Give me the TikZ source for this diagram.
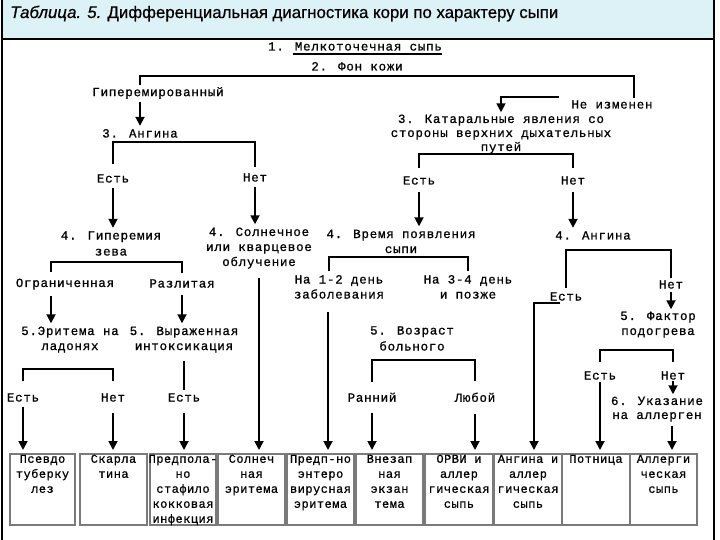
\documentclass[tikz,border=0pt]{standalone}
\usepackage{fontspec}
\usetikzlibrary{arrows.meta}
\newfontfamily\dmf[LetterSpace=6,FakeBold=0.8]{Liberation Mono}
\newfontfamily\bxf[LetterSpace=4,FakeBold=0.8]{Liberation Mono}
\newfontfamily\ttlf[FakeBold=0.6]{Liberation Sans}
\newcommand\qs{\rule[-1.5pt]{0pt}{10pt}}
\newcommand\bxt[2]{\parbox[t][71pt][t]{#1pt}{\centering\fontsize{12}{15}\bxf\rule{0pt}{9pt}#2}}
\definecolor{bandc}{HTML}{DDF2F6}
\definecolor{boxc}{HTML}{7A7A7A}
\tikzset{
  lab/.style={font=\fontsize{12.5}{15}\dmf, inner sep=0pt, align=center},
  br/.style={line width=1.8pt},
  arr/.style={line width=1.8pt, -{Triangle[width=9pt,length=9pt]}},
  bx/.style={draw=boxc, line width=1.5pt, inner sep=0pt, anchor=north},
}
\begin{document}
\begin{tikzpicture}[x=1pt,y=-1pt]
\useasboundingbox (0,0) rectangle (720,540);
% frame and title band
\fill[bandc] (2,0) rectangle (714,39);
\draw[line width=1.2pt] (2,0) -- (2,540);
\draw[line width=1.2pt] (714,0) -- (714,540);
\draw[line width=1.2pt] (2,39) -- (714,39);
\node[anchor=base west, font=\fontsize{16.8}{20}\ttlf, inner sep=0pt] (title) at (10,18)
  {{\itshape Таблица. 5.} Дифференциальная диагностика кори по характеру сыпи};

% labels
\node[lab] (t1) at (355,47) {\qs 1. Мелкоточечная сыпь};
\node[lab] (t2) at (357,67) {\qs 2. Фон кожи};
\node[lab] (hyp) at (158,93) {\qs Гиперемированный};
\node[lab] (nochg) at (612,105) {\qs Не изменен};
\node[lab, font=\fontsize{12.5}{14}\dmf] (kat) at (501,134) {\qs 3. Катаральные явления со\\\qs стороны верхних дыхательных\\\qs путей};
\node[lab] (ang3) at (140,134) {\qs 3. Ангина};
\node[lab] (yes1) at (113,179) {\qs Есть};
\node[lab] (no1) at (255,178) {\qs Нет};
\node[lab] (yes2) at (419,181) {\qs Есть};
\node[lab] (no2) at (573,181) {\qs Нет};
\node[lab, font=\fontsize{12.5}{16}\dmf] (hyp4) at (111,244) {\qs 4. Гиперемия\\\qs зева};
\node[lab] (sol4) at (259,248) {\qs 4. Солнечное\\\qs или кварцевое\\\qs облучение};
\node[lab] (time4) at (401,242) {\qs 4. Время появления\\\qs сыпи};
\node[lab] (ang4) at (593,236) {\qs 4. Ангина};
\node[lab] (ogr) at (65,284) {\qs Ограниченная};
\node[lab] (razl) at (182,284) {\qs Разлитая};
\node[lab] (d12) at (339,287.5) {\qs На 1-2 день\\\qs заболевания};
\node[lab] (d34) at (468,287.5) {\qs На 3-4 день\\\qs и позже};
\node[lab] (yes3) at (566,297) {\qs Есть};
\node[lab] (no3) at (671,285) {\qs Нет};
\node[lab] (eryth) at (70,339.5) {\qs 5.Эритема на\\\qs ладонях};
\node[lab] (intox) at (184,339.5) {\qs 5. Выраженная\\\qs интоксикация};
\node[lab, font=\fontsize{12.5}{16}\dmf] (age) at (412,339) {\qs 5. Возраст\\\qs больного};
\node[lab] (fact) at (658,324.5) {\qs 5. Фактор\\\qs подогрева};
\node[lab] (yes4) at (23,398) {\qs Есть};
\node[lab] (no4) at (113,398) {\qs Нет};
\node[lab] (yes5) at (184,398) {\qs Есть};
\node[lab] (early) at (372,398) {\qs Ранний};
\node[lab] (any) at (475,398) {\qs Любой};
\node[lab] (yes6) at (600,376) {\qs Есть};
\node[lab] (no6) at (673,376) {\qs Нет};
\node[lab, font=\fontsize{12.5}{14}\dmf] (alg) at (657,409) {\qs 6. Указание\\\qs на аллерген};

% result boxes
\node[bx] (bx1) at (42.5,453) {\bxt{65}{Псевдо\\туберку\\лез}};
\node[bx] (bx2) at (113.5,453) {\bxt{67}{Скарла\\тина}};
\node[bx] (bx3) at (183,453) {\bxt{66}{\makebox[0pt]{Предпола-}\\но\\стафило\\\makebox[0pt]{кокковая}\\\makebox[0pt]{инфекция}}};
\node[bx] (bx4) at (251.5,453) {\bxt{67}{Солнеч\\ная\\эритема}};
\node[bx] (bx5) at (320.5,453) {\bxt{67}{Предп-но\\энтеро\\\makebox[0pt]{вирусная}\\эритема}};
\node[bx] (bx6) at (389.5,453) {\bxt{67}{Внезап\\ная\\экзан\\тема}};
\node[bx] (bx7) at (459,453) {\bxt{68}{ОРВИ и\\аллер\\\makebox[0pt]{гическая}\\сыпь}};
\node[bx] (bx8) at (528,453) {\bxt{68}{\makebox[0pt]{Ангина и}\\аллер\\\makebox[0pt]{гическая}\\сыпь}};
\node[bx] (bx9) at (596,453) {\bxt{68}{Потница}};
\node[bx] (bx10) at (663.5,453) {\bxt{67}{Аллерги\\ческая\\сыпь}};

% helper coordinates
\coordinate (hypx) at ([xshift=-18pt]hyp.south);
\coordinate (hypn) at ([xshift=-18pt]hyp.north);
\coordinate (nochgr) at ([xshift=22pt]nochg.north);
\coordinate (ogrn) at ([xshift=-14pt]ogr.north);
\coordinate (ogrs) at ([xshift=-14pt]ogr.south);
\coordinate (d12n) at ([xshift=-10pt]d12.north);
\coordinate (d12s) at ([xshift=-11pt]d12.south);
\coordinate (algs) at ([xshift=15pt]alg.south);

% underline
\draw[line width=1.4pt] ([xshift=25pt,yshift=-2pt]t1.south west) -- ([yshift=-2pt]t1.south east);

% connectors
\draw[br, shorten <=2pt, shorten >=2pt] (hypn) |- ([yshift=-4pt]t2.south) -| (nochgr);
\draw[arr, shorten <=3pt, shorten >=3pt] (hypx) -- (hypx |- ang3.north);
\draw[arr] ([xshift=-12pt,yshift=8pt]nochg.west) -| ([yshift=2pt]kat.north);

\draw[br, shorten <=10pt, shorten >=6pt] (yes1.north) |- ([yshift=-3pt]ang3.south) -| (no1.north);
\draw[arr, shorten <=4pt, shorten >=3pt] (yes1.south) -- (yes1.south |- hyp4.north);
\draw[arr, shorten <=4pt, shorten >=3pt] (no1.south) -- (no1.south |- sol4.north);

\draw[br, shorten <=8pt, shorten >=8pt] (yes2.north) |- (kat.south) -| (no2.north);
\draw[arr, shorten <=6pt, shorten >=3pt] (yes2.south) -- (yes2.south |- time4.north);
\draw[arr, shorten <=6pt, shorten >=3pt] (no2.south) -- (no2.south |- ang4.north);

\draw[br, shorten <=6pt, shorten >=6pt] (ogrn) |- ([yshift=-5pt]hyp4.south) -| (razl.north);
\draw[arr, shorten <=6pt, shorten >=3pt] (ogrs) -- (ogrs |- eryth.north);
\draw[arr, shorten <=6pt, shorten >=3pt] (razl.south) -- (razl.south |- intox.north);

\draw[br, shorten <=12pt, shorten >=12pt] (yes4.north) |- ([yshift=-16pt]eryth.south) -| (no4.north);
\draw[arr, shorten <=4pt, shorten >=3pt] (yes4.south) -- (yes4.south |- bx1.north);
\draw[arr, shorten <=10pt, shorten >=3pt] (no4.south) -- (no4.south |- bx2.north);
\draw[br, shorten <=8pt, shorten >=3pt] (intox.south) -- (yes5.north);
\draw[arr, shorten <=10pt, shorten >=3pt] (yes5.south) -- (yes5.south |- bx3.north);

\draw[arr, shorten <=9pt, shorten >=3pt] (sol4.south) -- (sol4.south |- bx4.north);

\draw[br, shorten <=4pt, shorten >=4pt] (d12n) |- ([yshift=-2.5pt]time4.south) -| (d34.north);
\draw[arr, shorten <=12pt, shorten >=3pt] (d12s) -- (d12s |- bx5.north);

\draw[br, shorten <=11pt, shorten >=11pt] (early.north) |- ([yshift=-8pt]age.south) -| (any.north);
\draw[arr, shorten <=10pt, shorten >=3pt] (early.south) -- (early.south |- bx6.north);
\draw[arr, shorten <=10pt, shorten >=3pt] (any.south) -- (any.south |- bx7.north);

\draw[br, shorten <=4pt, shorten >=2pt] (yes3.north) |- ([yshift=-9pt]ang4.south) -| (no3.north);
\draw[arr, shorten >=3pt] ([xshift=-6pt,yshift=-1pt]yes3.south) -| ([xshift=6pt]bx8.north);
\draw[arr, shorten <=2pt, shorten >=2pt] (no3.south) -- (no3.south |- fact.north);

\draw[br, shorten <=9pt, shorten >=9pt] (yes6.north) |- ([yshift=-12pt]fact.south) -| (no6.north);
\draw[arr, shorten <=1pt, shorten >=3pt] (yes6.south) -- (yes6.south |- bx9.north);
\draw[arr, shorten >=2pt] (no6.south) -- (no6.south |- alg.north);
\draw[arr, shorten <=4pt, shorten >=3pt] (algs) -- (algs |- bx10.north);
\end{tikzpicture}
\end{document}
